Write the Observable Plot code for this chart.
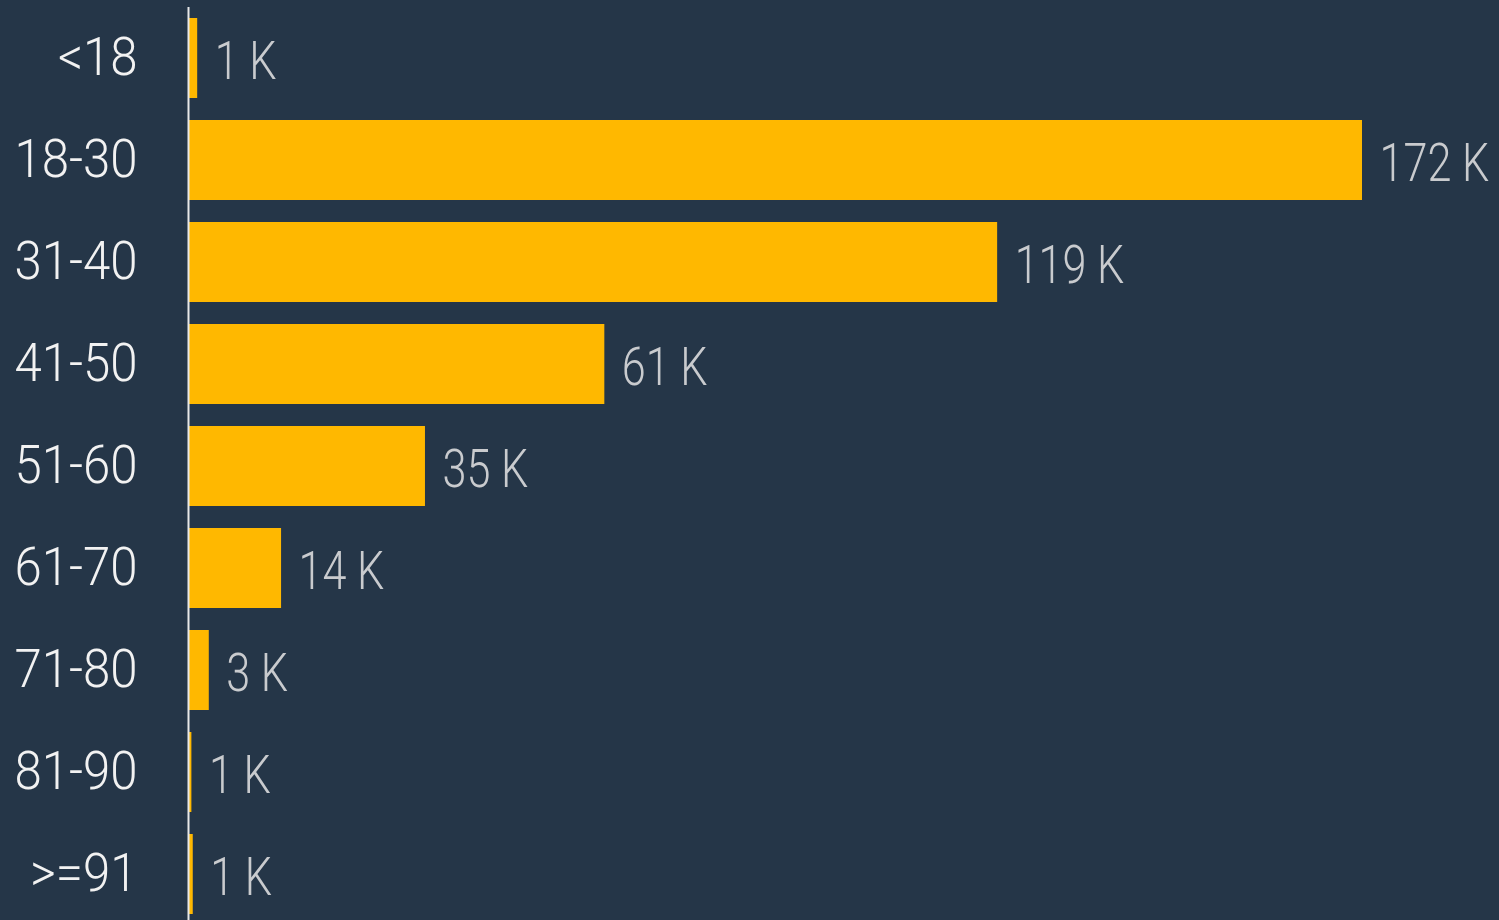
<!DOCTYPE html>
<html>
<head>
<meta charset="utf-8">
<script src="https://cdn.jsdelivr.net/npm/d3@7"></script>
<script src="https://cdn.jsdelivr.net/npm/@observablehq/plot@0.6"></script>
<style>
  html, body { margin: 0; padding: 0; background: #253648; overflow: hidden; }
  #chart svg { display: block; }
</style>
</head>
<body>
<div id="chart"></div>
<script>
const categories = ["<18", "18-30", "31-40", "41-50", "51-60", "61-70", "71-80", "81-90", ">=91"];
const values = [1.2, 172, 118.5, 60.9, 34.6, 13.5, 2.9, 0.35, 0.55];
const valueLabels = ["1 K", "172 K", "119 K", "61 K", "35 K", "14 K", "3 K", "1 K", "1 K"];

const data = categories.map((c, i) => ({category: c, value: values[i], label: valueLabels[i]}));
const font = "Roboto, sans-serif";

const chart = Plot.plot({
  width: 1499,
  height: 927,
  marginTop: 7,
  marginBottom: 2,
  marginLeft: 189,
  marginRight: 137,
  style: {background: "#253648", fontFamily: font},
  x: {domain: [0, 172], axis: null},
  y: {domain: categories, paddingInner: 0.22, paddingOuter: 0.11, label: null},
  marks: [
    Plot.barX(data, {x: "value", y: "category", fill: "#FFB800"}),
    Plot.text(data, {x: "value", y: "category", text: "label", textAnchor: "start", dx: 17, dy: 3, fill: "#c9cbce", fontSize: 54, fontWeight: 300, fontFamily: font}),
    Plot.axisY({tickSize: 0, tickPadding: 52, fontSize: 54, fontWeight: 300, color: "#f2f2f2", fill: "#f2f2f2", label: null, fontFamily: font, dy: -1}),
    Plot.ruleX([0], {stroke: "#e8e8e8", strokeWidth: 2, dx: -1})
  ]
});
document.getElementById("chart").append(chart);
// condense the glyphs horizontally to match the narrow face of the original
function condense(selector, factor) {
  chart.querySelectorAll(selector).forEach(t => {
    const len = t.getComputedTextLength();
    if (len > 0) {
      t.setAttribute("textLength", (len * factor).toFixed(1));
      t.setAttribute("lengthAdjust", "spacingAndGlyphs");
    }
  });
}
condense('g[aria-label="text"] text', 0.80);
condense('g[aria-label="y-axis tick label"] text', 0.91);
</script>
</body>
</html>
